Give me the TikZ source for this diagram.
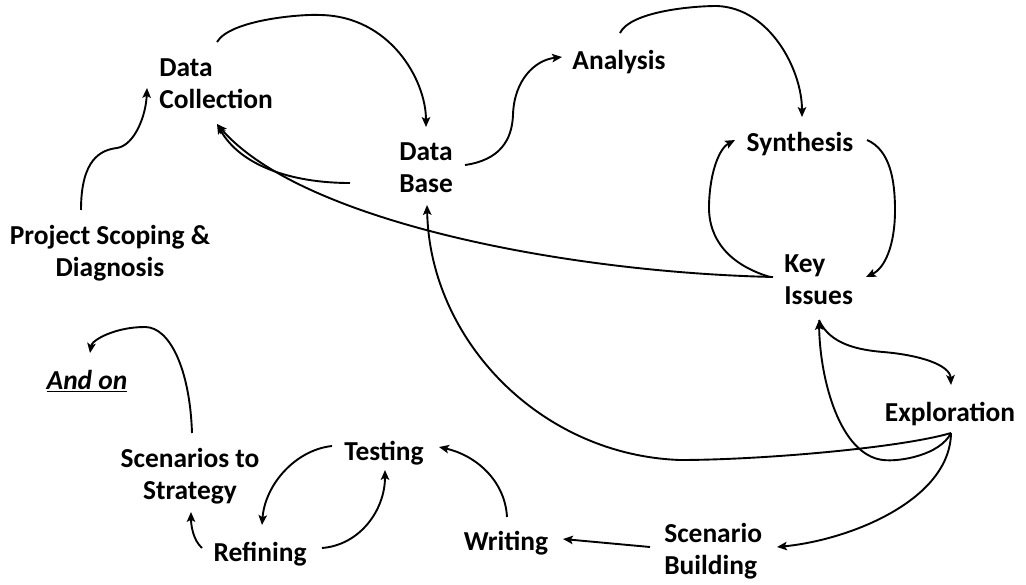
\documentclass[tikz,border=0pt]{standalone}
\usepackage{fontspec}
\setmainfont{Carlito}
\usetikzlibrary{arrows.meta}
\begin{document}
\begin{tikzpicture}[x=0.025cm,y=-0.025cm,
  label/.style={font=\bfseries\fontsize{19.5pt}{22.5pt}\selectfont,inner sep=0pt},
  flow/.style={line width=1.35pt,-{Stealth[length=7pt,width=6pt,inset=1.5pt]}},
  link/.style={line width=1.35pt}]
\useasboundingbox (0,0) rectangle (1026,585);

% stages of the process
\node[label,align=center] (ps) at (110,253) {Project Scoping \&\\Diagnosis};
\node[label,align=left,anchor=west] (dc) at (159,84) {Data\\Collection};
\node[label,align=left,anchor=west] (db) at (399,168) {Data\\Base};
\node[label] (an) at (619,62) {Analysis};
\node[label] (sy) at (800,144) {Synthesis};
\node[label,align=left,anchor=west] (ki) at (784,280) {Key\\Issues};
\node[label] (ex) at (950,414) {Exploration};
\node[label,align=left,anchor=west] (sb) at (664,551) {Scenario\\Building};
\node[label] (wr) at (506,543) {Writing};
\node[label] (te) at (384,453) {Testing};
\node[label] (rf) at (260,554) {Refining};
\node[label,align=center] (ss) at (190,476) {Scenarios to\\Strategy};
\node[label] (ao) at (87,381) {\underline{\textit{And on}}};

% connectors
\draw[flow] ([shift={(-29,-43)}]ps.center) .. controls (81,160) and (100,150) .. (117,148)
  .. controls (135,145) and (146,115) .. ([shift={(-12,4)}]dc.west);
\draw[flow] ([shift={(58,-42)}]dc.west) .. controls (230,20) and (300,14) .. (320,15)
  .. controls (390,16) and (426,80) .. ([shift={(27,-41)}]db.west);
\draw[flow] ([shift={(-49,15)}]db.west) .. controls (290,183) and (240,165) .. ([shift={(58,40)}]dc.west);
\draw[flow] ([shift={(-11,-3)}]ki.west) .. controls (560,272) and (300,220) .. ([shift={(58,40)}]dc.west);
\draw[flow] ([shift={(66,-3)}]db.west) .. controls (500,160) and (512,140) .. (513,115)
  .. controls (514,80) and (535,60) .. ([shift={(-57,-5)}]an.center);
\draw[flow] ([shift={(1,-29)}]an.center) .. controls (630,12) and (690,6) .. (717,6)
  .. controls (770,8) and (802,70) .. ([shift={(2,-27)}]sy.center);
\draw[flow] ([shift={(-14,-3)}]ki.west) .. controls (730,265) and (708,240) .. (709,205)
  .. controls (710,170) and (720,148) .. ([shift={(-65,-4)}]sy.center);
\draw[flow] ([shift={(67,-4)}]sy.center) .. controls (890,150) and (895,180) .. (895,210)
  .. controls (895,245) and (885,268) .. ([shift={(82,-3)}]ki.west);
\draw[flow] ([shift={(35,40)}]ki.west) .. controls (830,345) and (860,350) .. (883,352)
  .. controls (920,355) and (950,365) .. ([shift={(1,-29)}]ex.center);
\draw[flow] ([shift={(1,19)}]ex.center) .. controls (940,455) and (900,462) .. (883,460)
  .. controls (840,455) and (820,380) .. ([shift={(35,40)}]ki.west);
\draw[flow] ([shift={(1,19)}]ex.center) .. controls (900,448) and (760,460) .. (680,460)
  .. controls (540,455) and (430,340) .. ([shift={(28,37)}]db.west);
\draw[flow] ([shift={(1,19)}]ex.center) .. controls (950,500) and (850,540) .. ([shift={(113,-4)}]sb.west);
\draw[flow] ([shift={(-14,-4)}]sb.west) -- ([shift={(57,-4)}]wr.center);
\draw[flow] ([shift={(1,-26)}]wr.center) .. controls (505,480) and (475,455) .. ([shift={(55,-6)}]te.center);
\draw[flow] ([shift={(-52,-7)}]te.center) .. controls (295,450) and (265,485) .. ([shift={(2,-29)}]rf.center);
\draw[flow] ([shift={(62,-6)}]rf.center) .. controls (360,545) and (385,510) .. ([shift={(1,17)}]te.center);
\draw[flow] ([shift={(-58,-6)}]rf.center) .. controls (193,540) and (191,525) .. ([shift={(1,36)}]ss.center);
\draw[flow] ([shift={(2,-43)}]ss.center) .. controls (190,370) and (170,327) .. (145,327)
  .. controls (115,327) and (92,340) .. ([shift={(3,-28)}]ao.center);
\end{tikzpicture}
\end{document}
